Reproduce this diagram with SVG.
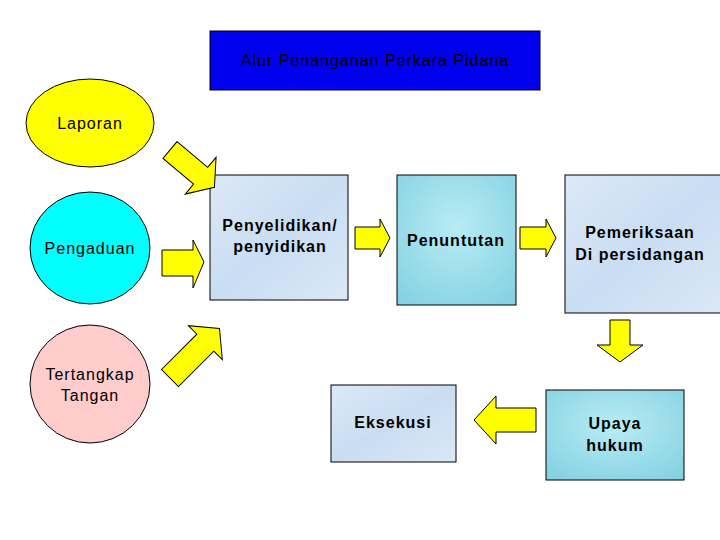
<svg xmlns="http://www.w3.org/2000/svg" width="720" height="540" viewBox="0 0 720 540">
<defs>
<linearGradient id="ice" x1="0" y1="0" x2="1" y2="1"><stop offset="0" stop-color="#dce9f7"/><stop offset="0.5" stop-color="#c9ddf2"/><stop offset="1" stop-color="#dbe8f6"/></linearGradient>
<radialGradient id="drop" cx="0.5" cy="0.4" r="0.8"><stop offset="0" stop-color="#b8ecf4"/><stop offset="1" stop-color="#7fcfe0"/></radialGradient>
</defs>
<style>
.t{font-family:"Liberation Sans",Arial,sans-serif;font-size:16px;font-weight:bold;letter-spacing:1px;fill:#000;text-anchor:middle}
.ar{fill:#ffff00;stroke:#000;stroke-width:1}
.bx{stroke:#000;stroke-width:1}
</style>
<rect width="720" height="540" fill="#fff"/>
<g id="title"><rect x="210" y="31" width="330" height="59" fill="#0000ee" stroke="#000"/><text class="t" x="375" y="66" style="font-weight:normal">Alur Penanganan Perkara Pidana</text></g>
<g id="laporan"><ellipse cx="90" cy="123" rx="64" ry="44" fill="#ffff00" stroke="#000"/><text class="t" x="90" y="129" style="font-weight:normal">Laporan</text></g>
<g id="pengaduan"><ellipse cx="90" cy="248" rx="60" ry="56" fill="#00ffff" stroke="#000"/><text class="t" x="90" y="254" style="font-weight:normal">Pengaduan</text></g>
<g id="tertangkap"><ellipse cx="90" cy="384" rx="60" ry="59" fill="#ffcccc" stroke="#000"/><text class="t" x="90" y="380" style="font-weight:normal">Tertangkap</text><text class="t" x="90" y="401" style="font-weight:normal">Tangan</text></g>
<g id="penyelidikan"><rect class="bx" x="210" y="175" width="138" height="125" fill="url(#ice)"/><text class="t" x="280" y="231">Penyelidikan/</text><text class="t" x="280" y="252">penyidikan</text></g>
<g id="penuntutan"><rect class="bx" x="397" y="175" width="119" height="130" fill="url(#drop)"/><text class="t" x="456" y="246">Penuntutan</text></g>
<g id="pemeriksaan"><rect class="bx" x="565" y="175" width="160" height="138" fill="url(#ice)"/><text class="t" x="640" y="238">Pemeriksaan</text><text class="t" x="640" y="260">Di persidangan</text></g>
<g id="upaya"><rect class="bx" x="546" y="390" width="138" height="90" fill="url(#drop)"/><text class="t" x="615" y="429">Upaya</text><text class="t" x="615" y="451">hukum</text></g>
<g id="eksekusi"><rect class="bx" x="331" y="385" width="125" height="77" fill="url(#ice)"/><text class="t" x="393" y="428">Eksekusi</text></g>
<g id="connectors">
<path class="ar" transform="translate(170,150) rotate(40)" d="M0,-11 H40 V-24 L58,0 L40,24 V11 H0 Z"/>
<path class="ar" d="M162,250 H193 V240 L204,262 L193,288 V276 H162 Z"/>
<path class="ar" transform="translate(170,378) rotate(-45)" d="M0,-12 H50 V-24 L70,0 L50,24 V12 H0 Z"/>
<path class="ar" d="M355,227 H380 V219 L390,238 L380,257 V249 H355 Z"/>
<path class="ar" d="M520,227 H546 V219 L556,238 L546,257 V249 H520 Z"/>
<path class="ar" d="M610,320 V345 H597 L620,362 L643,345 H630 V320 Z"/>
<path class="ar" d="M536,408 H496 V396 L474,420 L496,444 V432 H536 Z"/>
</g>
</svg>
